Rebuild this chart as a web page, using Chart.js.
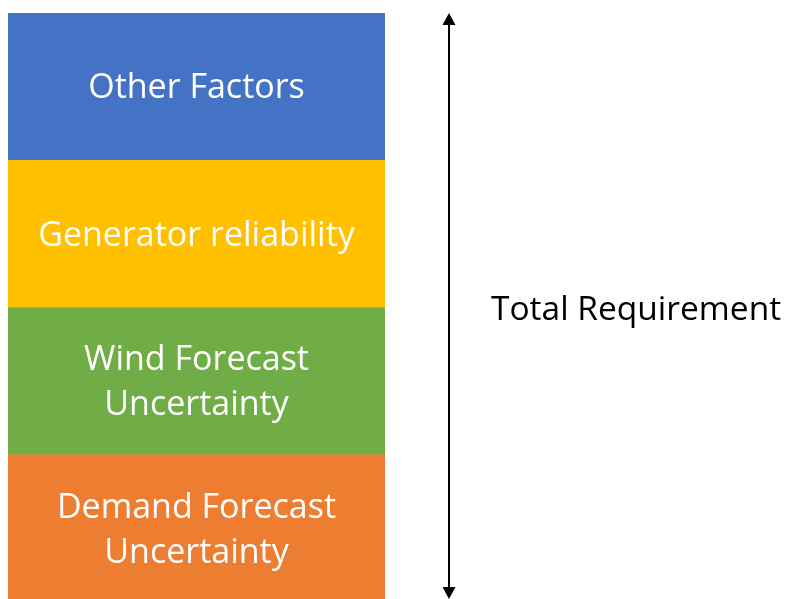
<!DOCTYPE html>
<html>
<head>
<meta charset="utf-8">
<script src="https://cdn.jsdelivr.net/npm/chart.js@4/dist/chart.umd.min.js"></script>
<style>
  html, body { margin: 0; padding: 0; background: #fff; overflow: hidden; }
  #wrap { width: 786px; height: 602px; }
</style>
</head>
<body>
<div id="wrap"><canvas id="c" width="786" height="602"></canvas></div>
<script>
// Components of the total reserve requirement, stacked bottom to top
const categories = ["Requirement"];
const componentNames = [
  ["Demand Forecast", "Uncertainty"],
  ["Wind Forecast", "Uncertainty"],
  ["Generator reliability"],
  ["Other Factors"]
];
const componentValues = [1, 1, 1, 1];
const componentColors = ["#ED7D31", "#70AD47", "#FFC000", "#4472C4"];
const totalLabel = "Total Requirement";

const FONT = "'Open Sans', 'Noto Sans', sans-serif";

// Writes each component's name in the middle of its segment
const segmentLabels = {
  id: "segmentLabels",
  afterDatasetsDraw(chart) {
    const ctx = chart.ctx;
    ctx.save();
    ctx.fillStyle = "#ffffff";
    ctx.font = "34px " + FONT;
    ctx.textAlign = "center";
    ctx.textBaseline = "middle";
    chart.data.datasets.forEach((ds, i) => {
      const bar = chart.getDatasetMeta(i).data[0];
      const cx = bar.x;
      const cy = (bar.y + bar.base) / 2 + 2;
      const lines = ds.lines;
      const lh = 45;
      lines.forEach((t, k) => {
        ctx.fillText(t, cx, cy + (k - (lines.length - 1) / 2) * lh);
      });
    });
    ctx.restore();
  }
};

// Double-headed arrow spanning the full stack, with its caption
const totalArrow = {
  id: "totalArrow",
  afterDraw(chart) {
    const ctx = chart.ctx;
    const y = chart.scales.y;
    const total = componentValues.reduce((a, b) => a + b, 0);
    const top = y.getPixelForValue(total);
    const bottom = Math.min(y.getPixelForValue(0), chart.height) - 3;
    const ax = chart.chartArea.right + 64;
    const hw = 6.5, hh = 12;
    ctx.save();
    ctx.strokeStyle = "#000";
    ctx.fillStyle = "#000";
    ctx.lineWidth = 2;
    ctx.beginPath();
    ctx.moveTo(ax, top + hh - 1);
    ctx.lineTo(ax, bottom - hh + 1);
    ctx.stroke();
    ctx.beginPath();
    ctx.moveTo(ax, top);
    ctx.lineTo(ax - hw, top + hh);
    ctx.lineTo(ax + hw, top + hh);
    ctx.closePath();
    ctx.fill();
    ctx.beginPath();
    ctx.moveTo(ax, bottom);
    ctx.lineTo(ax - hw, bottom - hh);
    ctx.lineTo(ax + hw, bottom - hh);
    ctx.closePath();
    ctx.fill();
    ctx.font = "33.5px " + FONT;
    ctx.textAlign = "left";
    ctx.textBaseline = "middle";
    ctx.fillText(totalLabel, chart.chartArea.right + 106, (top + y.getPixelForValue(0)) / 2 + 3);
    ctx.restore();
  }
};

new Chart(document.getElementById("c"), {
  type: "bar",
  data: {
    labels: categories,
    datasets: componentNames.map((lines, i) => ({
      label: lines.join(" "),
      lines: lines,
      data: [componentValues[i]],
      backgroundColor: componentColors[i],
      borderWidth: 0,
      barPercentage: 1,
      categoryPercentage: 1
    }))
  },
  options: {
    responsive: false,
    animation: false,
    layout: { padding: { left: 8, right: 401, top: 13, bottom: 0 } },
    plugins: { legend: { display: false }, tooltip: { enabled: false } },
    scales: {
      x: { stacked: true, display: false },
      y: { stacked: true, display: false, min: 0, max: 4 }
    }
  },
  plugins: [segmentLabels, totalArrow]
});
</script>
</body>
</html>
